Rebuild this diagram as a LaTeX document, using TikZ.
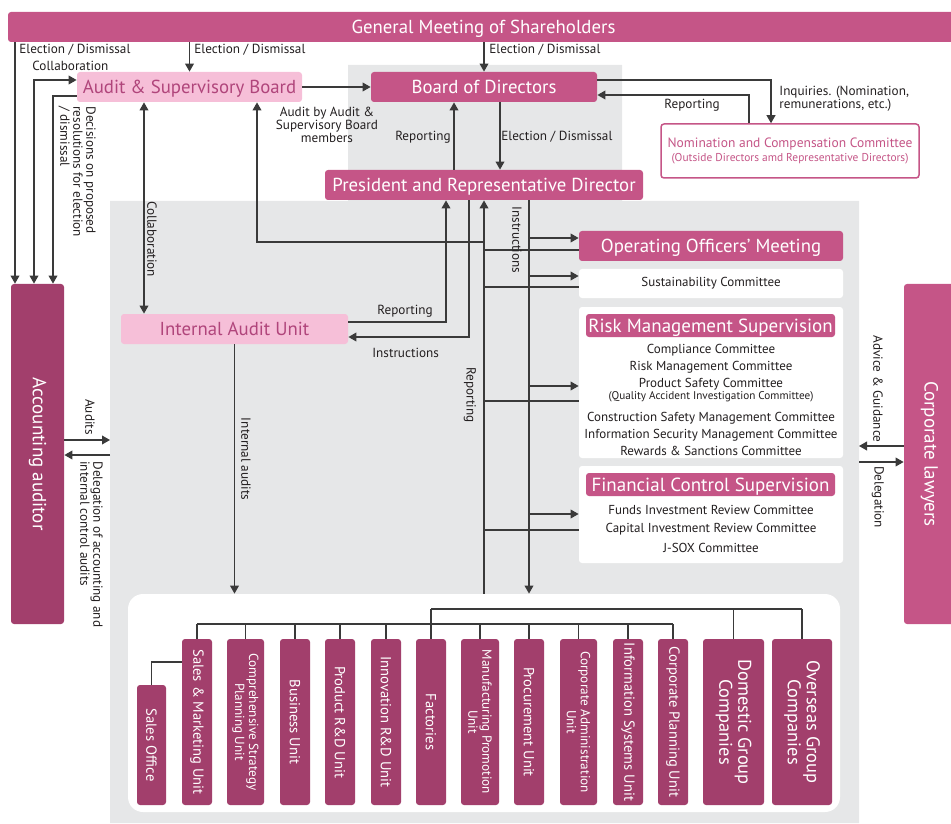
\documentclass[tikz,border=0pt]{standalone}
\usepackage{fontspec}
\setmainfont{PT Sans}
\usetikzlibrary{arrows.meta, positioning}

\definecolor{gmpink}{HTML}{C55587}
\definecolor{plum}{HTML}{A23F6C}
\definecolor{palepink}{HTML}{F6BFD8}
\definecolor{pinktext}{HTML}{B0457B}
\definecolor{bggrey}{HTML}{E6E7E8}
\definecolor{linegrey}{HTML}{3A3A3A}
\definecolor{labeltext}{HTML}{231F20}

\newcommand{\boxfont}{\fontsize{9.4}{10}\selectfont}
\newcommand{\lblfont}{\fontsize{6.6}{6.5}\selectfont}
\newcommand{\cmtfont}{\fontsize{6.5}{7}\selectfont}
\newcommand{\unitfont}{\fontsize{7.3}{7.5}\selectfont}
\newcommand{\unitsmall}{\fontsize{6.6}{7}\selectfont}
\newcommand{\groupfont}{\fontsize{9.2}{9.5}\selectfont}

\begin{document}
\begin{tikzpicture}[x=0.5pt, y=-0.5pt,
    line/.style={draw=linegrey, line width=0.6pt},
    arr/.style={line, -{Triangle[length=4pt, width=4.4pt]}},
    dblarr/.style={line, {Triangle[length=4pt, width=4.4pt]}-{Triangle[length=4pt, width=4.4pt]}},
    box/.style={rounded corners=1.5pt, inner sep=0pt, align=center},
    pinkbox/.style={box, fill=gmpink, text=white, font=\boxfont, minimum height=15pt, text height=6.8pt, text depth=0.5pt},
    palebox/.style={box, fill=palepink, text=pinktext, font=\boxfont, minimum height=15pt, text height=6.8pt, text depth=0.5pt},
    whitebox/.style={box, fill=white, minimum width=132pt},
    headbox/.style={box, fill=gmpink, text=white, font=\fontsize{9.5}{10}\selectfont, minimum width=124.5pt, minimum height=11.5pt, text height=7pt, text depth=0pt},
    sidebox/.style={box, text=white, font=\fontsize{9.5}{10}\selectfont, minimum height=170pt},
    unitbox/.style={box, fill=plum, text=white, rotate=-90, minimum width=83pt},
    lbl/.style={inner sep=0pt, text=labeltext, font=\lblfont},
    cmt/.style={inner sep=0pt, text=labeltext, font=\cmtfont},
  ]
  \useasboundingbox (0,0) rectangle (951,823);

  % grey backdrop behind board and executive side
  \fill[bggrey] (348,65) -| (622,201) -| (859,823) -| (110,201) -- (348,201) -- cycle;

  % governance
  \node[pinkbox, minimum width=475.5pt] (gms) at (483.5,27) {General Meeting of Shareholders};
  \node[palebox, minimum width=112.5pt] (asb) at (189.5,87) {Audit \& Supervisory Board};
  \node[pinkbox, minimum width=113pt] (bod) at (484,87) {Board of Directors};
  \node[box, draw=gmpink, line width=0.75pt, fill=white, text=gmpink, font=\fontsize{6.75}{7}\selectfont,
    minimum width=129pt, minimum height=27pt] (ncc) at (790,151)
    {Nomination and Compensation Committee\\{\fontsize{5.7}{6.5}\selectfont (Outside Directors amd Representative Directors)}};
  \node[pinkbox, minimum width=159pt] (prd) at (484,185) {President and Representative Director};
  \node[sidebox, fill=plum, minimum width=26.5pt] (acc) at (37.5,454) {\rotatebox{-90}{Accounting auditor}};
  \node[sidebox, fill=gmpink, minimum width=25.5pt] (law) at (929.5,454) {\rotatebox{-90}{Corporate lawyers}};
  \node[palebox, minimum width=113.5pt] (iau) at (234.5,329) {Internal Audit Unit};

  % committees
  \node[pinkbox, minimum width=132pt] (oom) at (711,246) {Operating Officers' Meeting};
  \node[whitebox, minimum height=14.5pt, font=\cmtfont, text=labeltext] (sus) at (711,283.5) {Sustainability Committee};
  \node[whitebox, minimum height=75.5pt] (risk) at (711,382.5) {};
  \node[headbox] (rhead) at (710.5,325.5) {Risk Management Supervision};
  \node[cmt] (rc1) at (711,350) {Compliance Committee};
  \node[cmt] (rc2) at (711,367) {Risk Management Committee};
  \node[cmt] (rc3) at (711,384) {Product Safety Committee};
  \node[cmt, font=\fontsize{5.6}{6}\selectfont] (rc4) at (711,397) {(Quality Accident Investigation Committee)};
  \node[cmt] (rc5) at (711,418) {Construction Safety Management Committee};
  \node[cmt] (rc6) at (711,435) {Information Security Management Committee};
  \node[cmt] (rc7) at (711,451) {Rewards \& Sanctions Committee};
  \node[whitebox, minimum height=48.5pt] (fin) at (711,514.5) {};
  \node[headbox] (fhead) at (710.5,484.5) {Financial Control Supervision};
  \node[cmt] (fc1) at (711,510) {Funds Investment Review Committee};
  \node[cmt] (fc2) at (711,529) {Capital Investment Review Committee};
  \node[cmt] (fc3) at (711,548) {J-SOX Committee};

  % business units
  \node[box, fill=white, rounded corners=7.5pt, minimum width=356pt, minimum height=109pt] (panel) at (484,703) {};
  \foreach \n/\x/\w/\f/\t in {
      smu/197/15/\unitfont/{Sales \& Marketing Unit},
      csp/245.5/18.5/\unitsmall/{Comprehensive Strategy\\Planning Unit},
      bu/295/15/\unitfont/{Business Unit},
      prdu/340/15/\unitfont/{Product R\&D Unit},
      ird/386/15/\unitfont/{Innovation R\&D Unit},
      fac/431/15/\unitfont/{Factories},
      mpu/480/19/\unitsmall/{Manufacturing Promotion\\Unit},
      pu/529/15/\unitfont/{Procurement Unit},
      cau/578.5/18.5/\unitsmall/{Corporate Administration\\Unit},
      isu/628/15/\unitfont/{Information Systems Unit},
      cpu/673/15/\unitfont/{Corporate Planning Unit},
      dgc/733.5/30.5/\groupfont/{Domestic Group\\Companies},
      ogc/802/30/\groupfont/{Overseas Group\\Companies}}
    \node[unitbox, minimum height=\w pt, font=\f] (\n) at (\x,722) {\t};
  \node[unitbox, minimum width=60pt, minimum height=14.5pt, font=\unitfont] (so) at (151.5,745) {Sales Office};

  \coordinate (lowbus) at (0,624);
  \coordinate (upbus) at (0,609);
  \draw[line] (smu |- lowbus) -- (cpu |- lowbus);
  \foreach \n in {smu,csp,bu,prdu,ird,mpu,pu,cau,isu,cpu}
    \draw[line] (\n |- lowbus) -- (\n.west);
  \draw[line] (fac |- upbus) -- (ogc |- upbus);
  \foreach \n in {fac,dgc,ogc}
    \draw[line] (\n |- upbus) -- (\n.west);
  \draw[line] (smu.south |- 0,662) -| (so.west);

  % connectors
  \draw[arr] (gms.south -| 15,0) -- (acc.north -| 15,0);
  \draw[arr] (gms.south -| asb) -- (asb.north);
  \draw[arr] (gms.south -| bod) -- (bod.north);
  \draw[dblarr] (acc.north -| 34,0) |- (asb.west |- 0,80);
  \draw[arr] (asb.west |- 0,96) -| (acc.north -| 53,0);
  \draw[arr] (asb) -- (bod);
  \draw[dblarr] (asb.south -| 144,0) -- (iau.north -| 144,0);
  \coordinate (audj) at (484,242);
  \draw[arr] (audj) -| (asb.south -| 257,0);
  \draw[arr] (prd.north -| 454,0) -- (bod.south -| 454,0);
  \draw[arr] (bod.south -| 500,0) -- (prd.north -| 500,0);
  \draw[arr] (bod.east |- 0,80) -| (ncc.north -| 771,0);
  \draw[arr] (ncc.north -| 749,0) |- (bod.east |- 0,95);
  \draw[arr] (iau.east |- 0,322) -| (prd.south -| 446,0);
  \draw[arr] (prd.south -| 469,0) |- (iau.east |- 0,337);

  \draw[arr] (panel.north) -- (prd.south);
  \foreach \b/\y in {oom/250, sus/287, risk/401, fin/530}
    \draw[line] (\b.west |- 0,\y) -- (prd.south |- 0,\y);
  \draw[arr] (prd.south -| 529,0) -- (panel.north -| 529,0);
  \foreach \b/\y in {oom/238, sus/276, risk/386, fin/514}
    \draw[arr] (529,\y) -- (\b.west |- 0,\y);
  \draw[arr] (iau.south) -- (panel.north -| iau.south);

  \coordinate (audto) at (110,440);
  \coordinate (delfrom) at (110,455);
  \draw[arr] (acc.east |- audto) -- (audto);
  \draw[arr] (delfrom) -- (acc.east |- delfrom);
  \coordinate (advto) at (859,446);
  \coordinate (lawfrom) at (859,462);
  \draw[arr] (law.west |- advto) -- (advto);
  \draw[arr] (lawfrom) -- (law.west |- lawfrom);

  % labels
  \node[lbl, anchor=west] (lel1) at (19,50) {Election / Dismissal};
  \node[lbl, anchor=west] (lcol1) at (32,66) {Collaboration};
  \node[lbl, anchor=west] (lel2) at (194,50) {Election / Dismissal};
  \node[lbl, anchor=west] (lel3) at (489,50) {Election / Dismissal};
  \node[lbl, rotate=-90, anchor=north west, align=left] (ldec) at (96,106) {Decisions on proposed\\resolutions for election\\/ dismissal};
  \node[lbl, align=center] (laud) at (327,125) {Audit by Audit \&\\Supervisory Board\\members};
  \node[lbl, anchor=east] (lrep1) at (451,137) {Reporting};
  \node[lbl, anchor=west] (lel4) at (501,137) {Election / Dismissal};
  \node[lbl, anchor=west, align=left] (linq) at (779,99) {Inquiries. (Nomination,\\remunerations, etc.)};
  \node[lbl, anchor=west] (lrep2) at (664,105) {Reporting};
  \node[lbl, rotate=-90] (lcol2) at (152,239) {Collaboration};
  \node[lbl, anchor=west] (lrep3) at (377,311) {Reporting};
  \node[lbl, anchor=west] (lins1) at (372,353) {Instructions};
  \node[lbl, rotate=-90] (lrep4) at (470,395) {Reporting};
  \node[lbl, rotate=-90] (lins2) at (517,240) {Instructions};
  \node[lbl, rotate=-90] (laudits) at (90,417) {Audits};
  \node[lbl, rotate=-90, anchor=north west, align=left] (ldel1) at (103,461) {Delegation of accounting and\\internal control audits};
  \node[lbl, rotate=-90] (lint) at (246,459) {Internal audits};
  \node[lbl, rotate=-90] (ladv) at (878,389) {Advice \& Guidance};
  \node[lbl, rotate=-90] (ldel2) at (878,497) {Delegation};
\end{tikzpicture}
\end{document}
